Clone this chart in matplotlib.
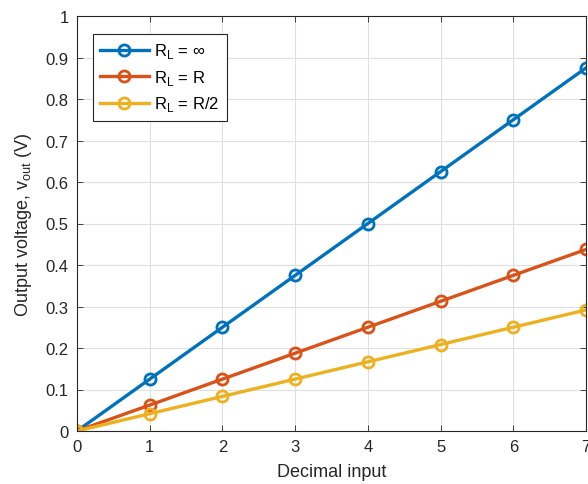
import matplotlib
matplotlib.use("Agg")
import matplotlib.pyplot as plt
import numpy as np

plt.rcParams['font.family'] = ['Liberation Sans', 'DejaVu Sans']
plt.rcParams['mathtext.fontset'] = 'custom'
plt.rcParams['mathtext.rm'] = 'Liberation Sans'

x_vals = [0, 1, 2, 3, 4, 5, 6, 7]
v_inf = [0, 0.125, 0.25, 0.375, 0.5, 0.625, 0.75, 0.875]
v_r = [0, 0.0625, 0.125, 0.1875, 0.25, 0.3125, 0.375, 0.4375]
v_r2 = [0, 0.0417, 0.0833, 0.125, 0.1667, 0.2083, 0.25, 0.2917]
labels = [r'R$_\mathregular{L}$ = ∞', r'R$_\mathregular{L}$ = R', r'R$_\mathregular{L}$ = R/2']
colors = ['#0072BD', '#D95319', '#EDB120']
xticks = [0, 1, 2, 3, 4, 5, 6, 7]
yticks = [0, 0.1, 0.2, 0.3, 0.4, 0.5, 0.6, 0.7, 0.8, 0.9, 1]
ytick_labels = ['0', '0.1', '0.2', '0.3', '0.4', '0.5', '0.6', '0.7', '0.8', '0.9', '1']

fig = plt.figure(figsize=(5.88, 4.85), dpi=100)
ax = fig.add_axes([77/588, 53/485, 509/588, 415/485])

for ys, lab, c in zip([v_inf, v_r, v_r2], labels, colors):
    ax.plot(x_vals, ys, '-o', color=c, lw=2.4, ms=8, mfc='none', mew=2, label=lab)

ax.set_xlim(0, 7)
ax.set_ylim(0, 1)
ax.set_xticks(xticks)
ax.set_yticks(yticks)
ax.set_yticklabels(ytick_labels)
ax.grid(True, color='#DFDFDF', lw=0.8)
ax.set_axisbelow(True)
ax.tick_params(direction='in', top=True, right=True, labelsize=12, colors='#262626',
               length=4, width=0.6, pad=6)
for s in ax.spines.values():
    s.set_color('#262626')
    s.set_linewidth(0.8)
ax.set_xlabel('Decimal input', fontsize=13, color='#262626', labelpad=6)
ax.set_ylabel(r'Output voltage, v$_\mathregular{out}$ (V)', fontsize=13, color='#262626', labelpad=8)

leg = ax.legend(loc='upper left', bbox_to_anchor=(0.031, 0.957), fontsize=12,
                fancybox=False, edgecolor='#262626', framealpha=1, handlelength=2.9,
                handletextpad=0.35, borderpad=0.45, labelspacing=0.45, borderaxespad=0)
leg.get_frame().set_linewidth(0.8)

fig.savefig('out.png', dpi=100)
